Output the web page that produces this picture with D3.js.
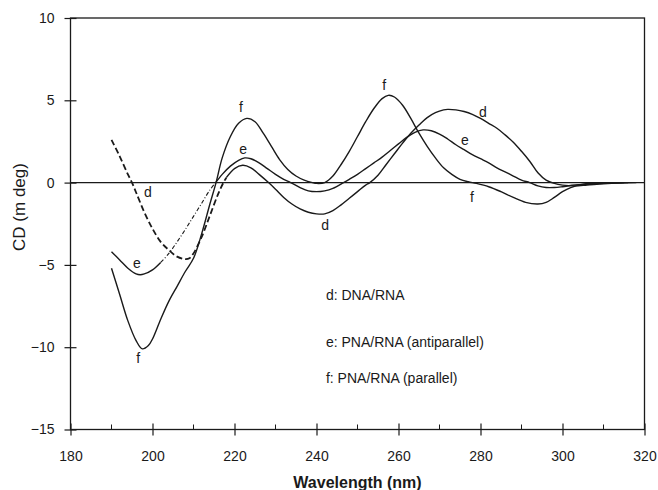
<!DOCTYPE html>
<html>
<head>
<meta charset="utf-8">
<script src="https://cdn.jsdelivr.net/npm/d3@7"></script>
<style>
  body { margin: 0; background: #fff; }
  svg text { font-family: "Liberation Sans", Arial, sans-serif; fill: #1a1a1a; }
</style>
</head>
<body>
<svg id="chart" width="658" height="490"></svg>
<script>
// CD spectra: [wavelength nm, CD m deg]
const dnaRna = [
  [190, 2.6], [192, 1.6], [194, 0.5], [195, 0.0], [196, -0.6], [198, -1.8], [200, -2.8],
  [202, -3.6], [204, -4.1], [206, -4.5], [208, -4.65], [209, -4.6], [210, -4.3], [212, -3.3],
  [214, -2.0], [216, -0.7], [217.3, 0], [218, 0.3], [220, 0.85], [222, 1.05], [224, 0.9],
  [226, 0.5], [228.3, 0], [230, -0.4], [232, -0.9], [234, -1.3], [236, -1.6], [238, -1.8],
  [240, -1.9], [242, -1.9], [244, -1.7], [246, -1.35], [248, -0.95], [250, -0.55], [252, -0.15],
  [253, 0], [255, 0.45], [257, 1.1], [259, 1.75], [261, 2.4], [263, 3.0], [265, 3.5],
  [267, 3.95], [269, 4.25], [271, 4.42], [272, 4.45], [274, 4.42], [276, 4.32], [278, 4.15],
  [280, 3.9], [282, 3.6], [284, 3.3], [286, 2.9], [288, 2.45], [290, 1.9], [292, 1.3],
  [294, 0.6], [296, 0.15], [298, -0.05], [300, -0.15], [303, -0.2], [306, -0.15], [310, -0.07],
  [314, -0.02], [318, 0]
];
const pnaAnti = [
  [190, -4.2], [192, -4.7], [194, -5.2], [196, -5.55], [197, -5.6], [198, -5.55], [200, -5.3],
  [202, -4.85], [204, -4.3], [206, -3.6], [208, -2.85], [210, -2.05], [212, -1.25], [214, -0.45],
  [215.4, 0], [217, 0.5], [219, 1.0], [221, 1.35], [222.5, 1.5], [224, 1.45], [226, 1.2],
  [228, 0.85], [230, 0.5], [232, 0.2], [233.7, 0], [236, -0.3], [238, -0.5], [240, -0.55],
  [242, -0.5], [244, -0.35], [246.6, 0], [248, 0.2], [250, 0.5], [252, 0.85], [254, 1.2],
  [256, 1.55], [258, 1.95], [260, 2.35], [262, 2.75], [264, 3.05], [266, 3.2], [268, 3.15],
  [270, 2.95], [272, 2.65], [274, 2.3], [276, 2.0], [278, 1.7], [280, 1.45], [282, 1.2],
  [284, 0.9], [286, 0.65], [288, 0.4], [290, 0.15], [292, 0], [294, -0.2], [296, -0.3],
  [298, -0.3], [300, -0.25], [303, -0.15], [306, -0.1], [310, -0.05], [315, 0]
];
const pnaPar = [
  [190, -5.2], [192, -6.8], [194, -8.4], [196, -9.6], [197.5, -10.1], [199, -9.9], [200, -9.5],
  [202, -8.3], [204, -7.2], [206, -6.3], [208, -5.4], [210, -4.6], [212, -3.1], [214, -1.3],
  [215.5, 0], [217, 1.5], [219, 2.8], [221, 3.6], [223, 3.9], [225, 3.7], [227, 3.0],
  [229, 2.2], [231, 1.4], [233, 0.8], [235, 0.4], [237, 0.15], [239, 0.0], [240, -0.05],
  [242, 0.0], [244, 0.4], [246, 1.1], [248, 1.9], [250, 2.8], [252, 3.7], [254, 4.5],
  [256, 5.1], [257.5, 5.3], [259, 5.2], [261, 4.7], [263, 3.9], [265, 3.0], [267, 2.2],
  [269, 1.5], [271, 0.9], [273, 0.5], [275, 0.2], [277, 0.05], [279, -0.05], [282, -0.25],
  [285, -0.55], [288, -0.9], [291, -1.2], [294, -1.3], [296, -1.2], [298, -0.9], [300, -0.55],
  [302, -0.3], [305, -0.1], [310, -0.02], [316, 0]
];

const xTicks = [180, 200, 220, 240, 260, 280, 300, 320];
const xMinor = [190, 210, 230, 250, 270, 290, 310];
const yTicks = [-15, -10, -5, 0, 5, 10];

// curve letters, placed in data units
const curveLabels = [
  ["f", 221.6, 4.6], ["e", 222.1, 2.05], ["d", 198.9, -0.57], ["d", 242.1, -2.58],
  ["f", 256.5, 5.93], ["d", 280.6, 4.29], ["e", 276.2, 2.59], ["f", 277.9, -0.87],
  ["e", 196.2, -4.88], ["f", 196.5, -10.66]
];
const legendLines = [
  ["d: DNA/RNA", -6.83], ["e: PNA/RNA (antiparallel)", -9.68], ["f: PNA/RNA (parallel)", -11.87]
];

const svg = d3.select("#chart");
const x = d3.scaleLinear().domain([180, 320]).range([70.5, 644.5]);
const y = d3.scaleLinear().domain([-15, 10]).range([429.5, 18]);
const ink = "#1a1a1a";

// frame
svg.append("rect")
  .attr("x", x(180)).attr("y", y(10))
  .attr("width", x(320) - x(180)).attr("height", y(-15) - y(10))
  .attr("fill", "none").attr("stroke", ink).attr("stroke-width", 1.3);

// zero line
svg.append("line")
  .attr("x1", x(180)).attr("x2", x(320))
  .attr("y1", y(0)).attr("y2", y(0))
  .attr("stroke", ink).attr("stroke-width", 1.2);

// axes
const gx = svg.append("g").attr("transform", "translate(0," + y(-15) + ")")
  .call(d3.axisBottom(x).tickValues(xTicks).tickSize(6).tickPadding(15.5).tickFormat(d3.format("d")));
gx.select(".domain").remove();
gx.selectAll(".tick line").attr("y1", -6).attr("stroke", ink).attr("stroke-width", 1.2);
gx.selectAll(".tick text").attr("font-size", 14).style("fill", ink);

gx.selectAll("line.minor").data(xMinor).enter().append("line")
  .attr("class", "minor")
  .attr("x1", d => x(d)).attr("x2", d => x(d))
  .attr("y1", 0).attr("y2", -5)
  .attr("stroke", ink).attr("stroke-width", 1);

const gy = svg.append("g").attr("transform", "translate(" + x(180) + ",0)")
  .call(d3.axisLeft(y).tickValues(yTicks).tickSize(6).tickPadding(10).tickFormat(d3.format("d")));
gy.select(".domain").remove();
gy.selectAll(".tick line").attr("x1", 6).attr("stroke", ink).attr("stroke-width", 1.2);
gy.selectAll(".tick text").attr("font-size", 14).style("fill", ink);

// axis titles
svg.append("text")
  .attr("x", (x(180) + x(320)) / 2).attr("y", 482).attr("dy", "0.35em")
  .attr("text-anchor", "middle").attr("font-size", 16).attr("font-weight", "bold")
  .text("Wavelength (nm)");
svg.append("text")
  .attr("transform", "translate(19.5,207) rotate(-90)")
  .attr("text-anchor", "middle").attr("dy", "0.35em").attr("font-size", 17)
  .text("CD (m deg)");

// curves
const line = d3.line().x(d => x(d[0])).y(d => y(d[1])).curve(d3.curveCatmullRom);
const g = svg.append("g").attr("fill", "none").attr("stroke", ink);

function drawPart(data, from, to, width, dash) {
  const part = data.filter(d => d[0] >= from && d[0] <= to);
  const p = g.append("path").attr("d", line(part)).attr("stroke-width", width);
  if (dash) p.attr("stroke-dasharray", dash);
}

drawPart(dnaRna, 190, 218, 1.8, "6,3");
drawPart(dnaRna, 218, 320, 1.4);
drawPart(pnaAnti, 190, 202, 1.4);
drawPart(pnaAnti, 202, 215.4, 1.1, "4,2,1,2");
drawPart(pnaAnti, 215.4, 320, 1.4);
drawPart(pnaPar, 190, 320, 1.4);

// curve letters
svg.selectAll("text.lab").data(curveLabels).enter().append("text")
  .attr("class", "lab")
  .attr("x", d => x(d[1])).attr("y", d => y(d[2])).attr("dy", "0.35em")
  .attr("text-anchor", "middle").attr("font-size", 14)
  .text(d => d[0]);

// legend
svg.selectAll("text.leg").data(legendLines).enter().append("text")
  .attr("class", "leg")
  .attr("x", x(242.3)).attr("y", d => y(d[1])).attr("dy", "0.35em")
  .attr("font-size", 14)
  .text(d => d[0]);
</script>
</body>
</html>
